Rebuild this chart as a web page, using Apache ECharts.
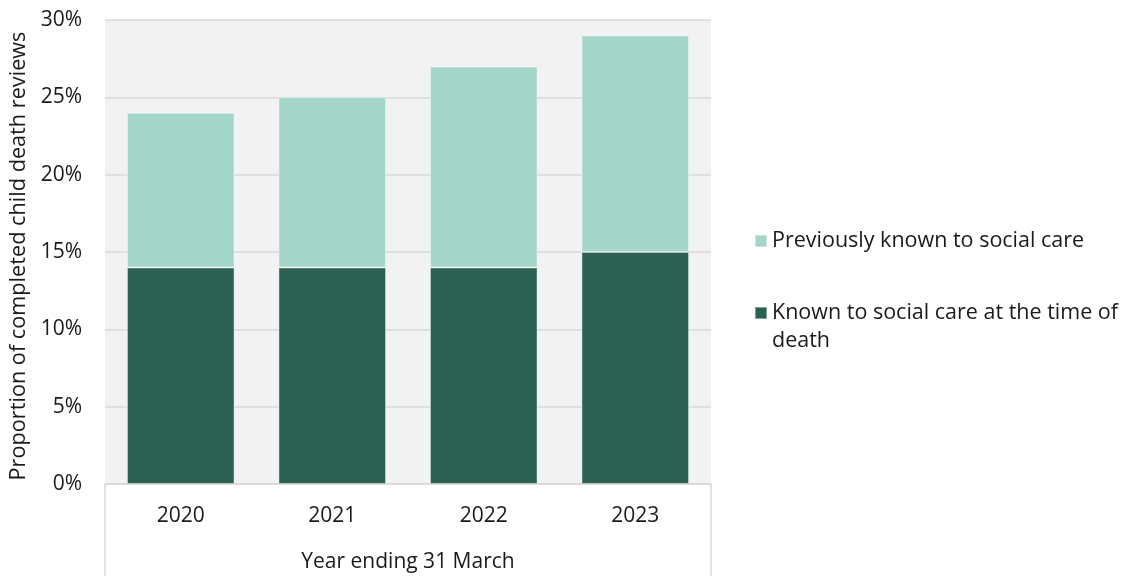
<!DOCTYPE html>
<html>
<head>
<meta charset="utf-8">
<script src="https://cdn.jsdelivr.net/npm/echarts@6/dist/echarts.min.js"></script>
<style>
  html, body { margin: 0; padding: 0; background: #ffffff; }
  #chart { width: 1123px; height: 576px; }
</style>
</head>
<body>
<div id="chart"></div>
<script>
// Years (x axis categories)
const years = ['2020', '2021', '2022', '2023'];
// Share of completed reviews, in percent
const knownAtDeath = [14, 14, 14, 15];
const previouslyKnown = [10, 11, 13, 14];
const yTicks = [0, 5, 10, 15, 20, 25, 30];

const seriesNames = ['Previously known to social care', 'Known to social care at the time of death'];
// Legend label text, wrapped; the leading blank line keeps the marker beside the first line
const legendLabels = {
  [seriesNames[0]]: 'Previously known to social care',
  [seriesNames[1]]: '\nKnown to social care at the time of\ndeath'
};

const FONT = '"Open Sans", "Noto Sans", sans-serif';
const TEXT = '#1a1a1a';
const FS = 21;
const GRID = { left: 105, right: 412, top: 20, bottom: 92 };

const chart = echarts.init(document.getElementById('chart'));

chart.setOption({
  animation: false,
  backgroundColor: '#ffffff',
  textStyle: { fontFamily: FONT, color: TEXT },
  grid: Object.assign({
    show: true, backgroundColor: '#f2f2f2', borderWidth: 0,
    containLabel: false, outerBoundsMode: 'none'
  }, GRID),
  legend: {
    orient: 'vertical',
    left: 749,
    top: 222,
    itemWidth: 12,
    itemHeight: 12,
    itemGap: 16,
    icon: 'rect',
    data: [seriesNames[0], seriesNames[1]],
    formatter: name => legendLabels[name],
    textStyle: { fontFamily: FONT, fontSize: 21.5, color: TEXT, lineHeight: 28 }
  },
  xAxis: {
    type: 'category',
    data: years,
    name: 'Year ending 31 March',
    nameLocation: 'middle',
    nameGap: 68,
    nameTextStyle: { fontFamily: FONT, fontSize: FS, color: TEXT },
    axisLine: { show: true, lineStyle: { color: '#d9d9d9', width: 1.5 } },
    axisTick: { show: false },
    axisLabel: { fontFamily: FONT, fontSize: FS, color: TEXT, margin: 22 }
  },
  yAxis: {
    type: 'value',
    min: yTicks[0],
    max: yTicks[yTicks.length - 1],
    interval: yTicks[1] - yTicks[0],
    name: 'Proportion of completed child death reviews',
    nameLocation: 'middle',
    nameGap: 75,
    nameTextStyle: { fontFamily: FONT, fontSize: 21.7, color: TEXT, padding: [0, 8, 0, 0] },
    axisLine: { show: false },
    axisTick: { show: false },
    axisLabel: { fontFamily: FONT, fontSize: FS, color: TEXT, margin: 23, formatter: '{value}%' },
    splitLine: { show: true, lineStyle: { color: '#d9d9d9', width: 1.5 } }
  },
  series: [
    {
      name: seriesNames[1],
      type: 'bar',
      stack: 'total',
      barWidth: '71%',
      data: knownAtDeath,
      itemStyle: { color: '#2b6153', borderColor: 'rgba(255,255,255,0.4)', borderWidth: 1 }
    },
    {
      name: seriesNames[0],
      type: 'bar',
      stack: 'total',
      barWidth: '71%',
      data: previouslyKnown,
      itemStyle: { color: '#a3d6c8', borderColor: 'rgba(255,255,255,0.4)', borderWidth: 1 }
    }
  ]
});

// Frame around the category label area below the plot
const W = chart.getWidth(), H = chart.getHeight();
const xL = GRID.left, xR = W - GRID.right, yB = H - GRID.bottom;
const frameStyle = { stroke: '#d9d9d9', lineWidth: 1.5 };
chart.setOption({
  graphic: [
    { type: 'line', silent: true, shape: { x1: xL, y1: yB, x2: xL, y2: H }, style: frameStyle },
    { type: 'line', silent: true, shape: { x1: xR, y1: yB, x2: xR, y2: H }, style: frameStyle }
  ]
});
</script>
</body>
</html>
